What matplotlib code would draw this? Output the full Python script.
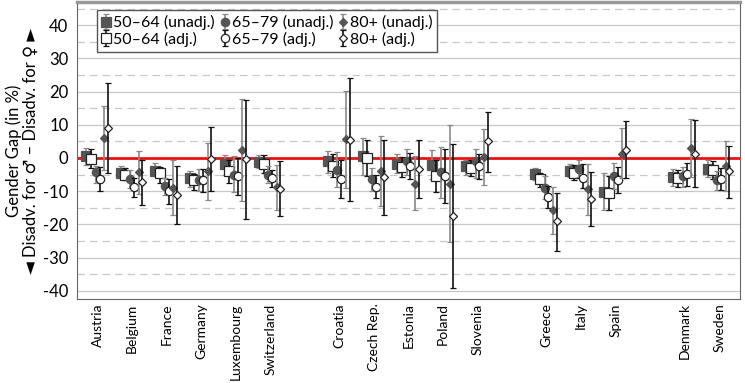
import numpy as np
import matplotlib
matplotlib.use("Agg")
import matplotlib.pyplot as plt

plt.rcParams['font.family'] = ['Lato', 'DejaVu Sans']
plt.rcParams['axes.unicode_minus'] = False

countries = ["Austria", "Belgium", "France", "Germany", "Luxembourg", "Switzerland",
             "Croatia", "Czech Rep.", "Estonia", "Poland", "Slovenia",
             "Greece", "Italy", "Spain",
             "Denmark", "Sweden"]
group_sizes = [6, 5, 3, 2]

# 50-64 unadjusted / adjusted
u50 = [0.5, -4.5, -3.8, -6.0, -1.8, -1.3, -1.0, 0.7, -1.7, -2.1, -2.5, -4.8, -3.8, -10.3, -5.7, -3.2]
u50_lo = [-2, -6, -5.5, -8.6, -5, -3, -4.5, -5, -4.5, -6.3, -5, -6.5, -5.7, -15.8, -8.4, -5.8]
u50_hi = [3, -2.3, -1.6, -4, 1, 1, 2.2, 6, 1.1, 2.3, -0.5, -3, -1.8, -4.5, -3.3, -0.5]
a50 = [-0.2, -5, -4.5, -6.7, -3.8, -1.8, -2.5, 0, -2.8, -5.3, -3, -6.3, -4.5, -10.4, -6, -3.7]
a50_lo = [-3, -6.5, -7.5, -9.6, -7.4, -4.5, -5.7, -5.5, -5.7, -10.2, -5.3, -8.6, -6.7, -15.8, -8.6, -6.3]
a50_hi = [2.7, -3, -2.7, -4.7, -0.5, 1, 1.2, 5.5, 0.2, -0.5, -0.5, -4.5, -2, -5.3, -3.5, -0.8]

# 65-79
u65 = [-4.2, -6.2, -8.3, -6.6, -5, -5, -3.5, -6.2, -1, -4.2, -1, -9.1, -3.2, -5.3, -5.5, -6.5]
u65_lo = [-7.5, -9, -11, -9.8, -10.3, -7.4, -8.8, -10, -5, -12.1, -6, -12.4, -5.7, -9.4, -8.6, -9.6]
u65_hi = [-2.5, -3.5, -6, -3.3, 0.5, -2.5, 1.7, -3, 2.7, 3.3, 2.7, -5.5, -0.7, -1.5, -2.7, -4]
a65 = [-6.2, -8.6, -10, -6.7, -5.5, -6, -6.2, -8.6, -2.3, -5.3, -2.5, -11.8, -6, -6.5, -4.7, -6.2]
a65_lo = [-10, -11.6, -13.9, -10.3, -11, -8.6, -12.1, -12.1, -6.2, -13.6, -6.2, -15.2, -9.1, -10.4, -8.3, -9.6]
a65_hi = [-2.7, -6, -6.2, -3.3, 0, -3.5, -0.5, -5, 1.5, 2.8, 1.2, -8.4, -1.7, -2.7, -1.5, -3]

# 80+
u80 = [6.1, -4.2, -8.9, -4, 2.5, -8.8, 5.7, -3.8, -7.8, -7.8, 0.3, -15.7, -9.4, 1.3, 3, -2.3]
u80_lo = [-3.5, -10.9, -17.2, -12.6, -13.1, -15.8, -9.1, -14.4, -15.6, -25.4, -8.1, -23, -17.1, -6, -5.7, -9.8]
u80_hi = [15.8, 2.2, -0.5, 4.5, 17.8, -2, 20.3, 6.5, 0.5, 9.9, 8.6, -8.6, -1.8, 9.1, 11.8, 5.2]
a80 = [9.1, -7.3, -11, -0.2, -0.3, -9.4, 5.5, -5.8, -3.2, -17.4, 5, -19.1, -12.4, 2.5, 1.3, -4]
a80_lo = [-4.5, -14.1, -19.8, -9.8, -18.4, -17.6, -12.9, -17.1, -11.9, -39.3, -4.2, -27.9, -20.6, -6, -8.6, -12]
a80_hi = [22.5, -0.5, -2.3, 9.4, 17.4, -0.8, 24.2, 5.5, 5.5, 4.2, 13.9, -10.4, -4.2, 11, 11.3, 3.7]

# x positions with a blank slot between regional groups
pos = []
start = 0
for g in group_sizes:
    pos += list(range(start, start + g))
    start += g + 1
pos = np.array(pos, dtype=float)

fig = plt.figure(figsize=(7.45, 3.83), dpi=100)
ax = fig.add_axes([0.103, 0.219, 0.89, 0.776])

for y in range(-45, 50, 5):
    if y % 10 == 0:
        ax.axhline(y, color="#c8c8c8", lw=0.9, zorder=0)
    else:
        ax.axhline(y, color="#c8c8c8", lw=0.9, ls=(0, (6, 4)), zorder=0)
ax.axhline(0, color="#ee1111", lw=2.0, zorder=1)

dark = "#555555"
series = [
    ("50\u201364 (unadj.)", u50, u50_lo, u50_hi, -0.32, "s", 6.5, dark, "#8a8a8a"),
    ("50\u201364 (adj.)", a50, a50_lo, a50_hi, -0.19, "s", 6.5, "white", "#111111"),
    ("65\u201379 (unadj.)", u65, u65_lo, u65_hi, -0.05, "o", 6, dark, "#8a8a8a"),
    ("65\u201379 (adj.)", a65, a65_lo, a65_hi, 0.06, "o", 6, "white", "#111111"),
    ("80+ (unadj.)", u80, u80_lo, u80_hi, 0.2, "D", 3.8, dark, "#8a8a8a"),
    ("80+ (adj.)", a80, a80_lo, a80_hi, 0.3, "D", 3.8, "white", "#111111"),
]

handles = []
for i, (lab, v, lo, hi, off, mk, ms, fc, ec) in enumerate(series):
    v = np.array(v)
    err = [v - np.array(lo), np.array(hi) - v]
    medge = dark if fc == dark else "#222222"
    h = ax.errorbar(pos + off, v, yerr=err, fmt=mk, ms=ms, mfc=fc, mec=medge,
                    mew=0.9, ecolor=ec, elinewidth=1.2, capsize=2.5, capthick=1.0,
                    label=lab, zorder=3 + i)
    handles.append(h)

ax.set_xlim(-0.6, 18.6)
ax.set_ylim(-42.5, 47)
ax.set_yticks(range(-40, 41, 10))
ax.set_xticks(pos)
ax.set_xticklabels(countries, rotation=90, fontsize=10)
ax.tick_params(axis="both", length=0)
ax.tick_params(axis="x", pad=3)
ax.tick_params(axis="y", labelsize=12, pad=6)

for s in ["left", "right", "bottom"]:
    ax.spines[s].set_color("#666666")
ax.spines["top"].set_color("#999999")
ax.spines["top"].set_linewidth(2.5)

ax.set_ylabel("Gender Gap (in %)\n\u25c4 Disadv. for \u2642 \u2013 Disadv. for \u2640 \u25ba",
              fontsize=12, labelpad=3, linespacing=1.05)

leg = ax.legend(handles=handles, ncol=3, loc="upper left", bbox_to_anchor=(0.03, 0.972),
                borderaxespad=0, fontsize=11.5, handlelength=0.6, handletextpad=0.15,
                columnspacing=0.3, labelspacing=0.1, borderpad=0.3,
                fancybox=False, framealpha=1)
leg.get_frame().set_edgecolor("#555555")

fig.savefig("out.png", dpi=100)
